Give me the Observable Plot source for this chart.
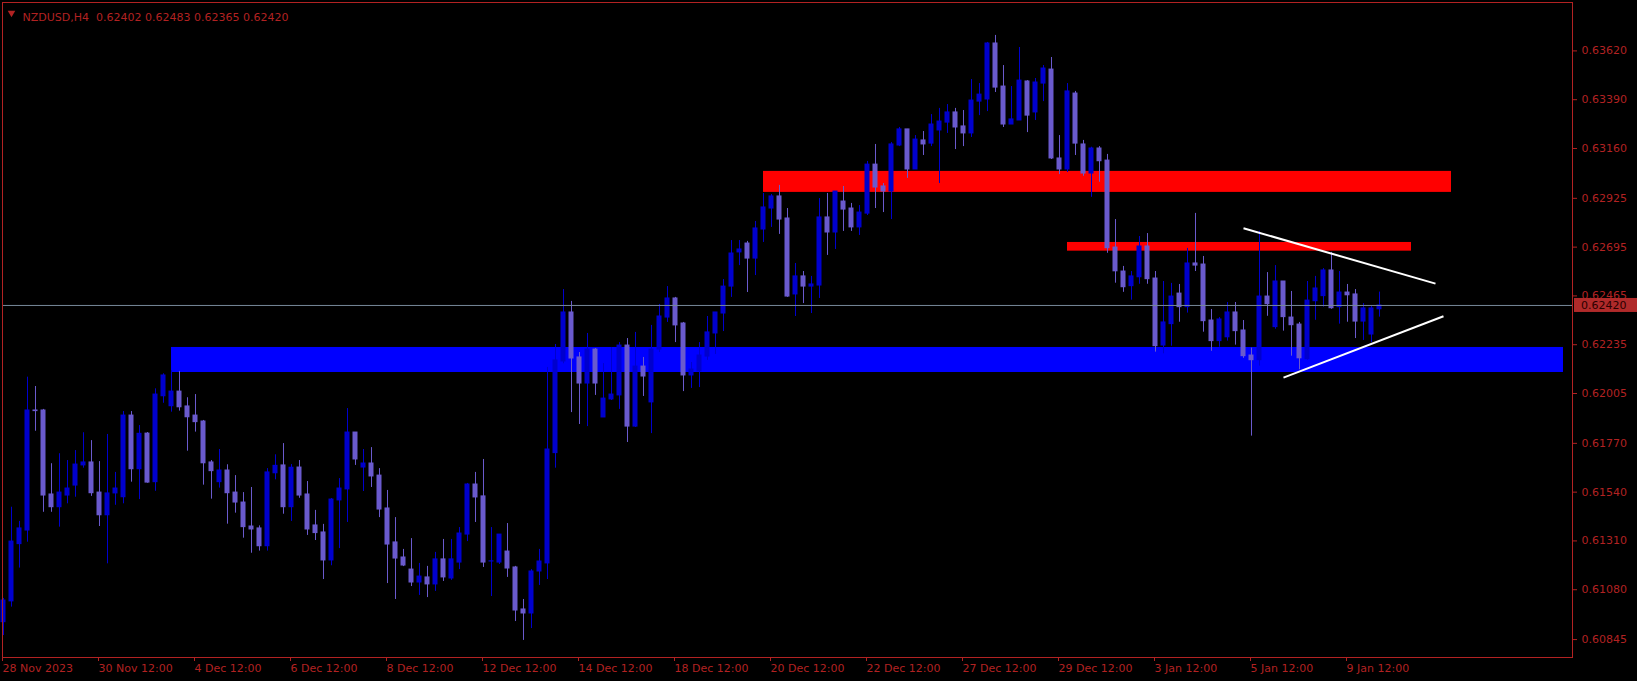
<!DOCTYPE html>
<html>
<head>
<meta charset="utf-8">
<script src="https://cdn.jsdelivr.net/npm/d3@7"></script>
<script src="https://cdn.jsdelivr.net/npm/@observablehq/plot@0.6"></script>
<style>
  html, body { margin: 0; padding: 0; background: #000; }
  #chart { width: 1637px; height: 681px; }
  svg { display: block; }
</style>
</head>
<body>
<div id="chart"></div>
<script>
// ---------- DATA ----------
const symbolName = "NZDUSD,H4";

const opens = [
0.60927,0.61025,0.61295,0.61359,0.61925,0.61925,0.61529,0.61469,0.61524,0.61571,
0.61666,0.61680,0.61538,0.61431,0.61534,0.61516,0.61901,0.61648,0.61816,0.61587,
0.61992,0.61945,0.62014,0.61944,0.61901,0.61873,0.61680,0.61587,0.61642,0.61538,
0.61491,0.61378,0.61369,0.61285,0.61629,0.61666,0.61469,0.61656,0.61529,0.61383,
0.61350,0.61218,0.61501,0.61553,0.61821,0.61656,0.61675,0.61618,0.61463,0.61303,
0.61232,0.61175,0.61114,0.61138,0.61105,0.61223,0.61133,0.61208,0.61340,0.61576,
0.61520,0.61213,0.61208,0.61260,0.61185,0.60987,0.60968,0.61166,0.61204,0.61724,
0.62156,0.62387,0.62175,0.62052,0.62212,0.61892,0.61977,0.61996,0.62231,0.61849,
0.62132,0.61963,0.62212,0.62363,0.62453,0.62335,0.62090,0.62109,0.62179,0.62288,
0.62382,0.62509,0.62670,0.62712,0.62641,0.62778,0.62877,0.62934,0.62830,0.62472,
0.62557,0.62509,0.62514,0.62835,0.62764,0.62910,0.62877,0.62788,0.62853,0.63084,
0.62981,0.62957,0.63174,0.63250,0.63061,0.63198,0.63183,0.63245,0.63282,0.63330,
0.63264,0.63231,0.63381,0.63391,0.63655,0.63452,0.63273,0.63292,0.63476,0.63330,
0.63466,0.63532,0.63113,0.63061,0.63419,0.63179,0.63042,0.63160,0.63103,0.62693,
0.62580,0.62511,0.62553,0.62698,0.62547,0.62231,0.62332,0.62476,0.62412,0.62618,
0.62613,0.62349,0.62252,0.62270,0.62387,0.62302,0.62184,0.62162,0.62462,0.62318,
0.62533,0.62363,0.62330,0.62167,0.62440,0.62464,0.62585,0.62412,0.62481,0.62472,
0.62344,0.62283,0.62402];

const highs = [
0.61039,0.61469,0.61402,0.62082,0.62038,0.61930,0.61674,0.61721,0.61689,0.61736,
0.61820,0.61783,0.61684,0.61812,0.61633,0.61920,0.61920,0.61854,0.61821,0.62027,
0.62098,0.62113,0.62109,0.61985,0.62000,0.61878,0.61689,0.61741,0.61669,0.61618,
0.61538,0.61562,0.61381,0.61651,0.61716,0.61769,0.61670,0.61689,0.61590,0.61454,
0.61388,0.61510,0.61604,0.61934,0.61821,0.61741,0.61750,0.61651,0.61548,0.61420,
0.61270,0.61321,0.61204,0.61190,0.61256,0.61317,0.61317,0.61373,0.61581,0.61633,
0.61694,0.61373,0.61340,0.61392,0.61190,0.61034,0.61175,0.61270,0.62128,0.62236,
0.62495,0.62439,0.62198,0.62288,0.62217,0.62146,0.62222,0.62245,0.62264,0.62293,
0.62175,0.62326,0.62425,0.62509,0.62458,0.62340,0.62151,0.62245,0.62368,0.62387,
0.62542,0.62726,0.62726,0.62722,0.62816,0.62948,0.62943,0.62986,0.62877,0.62618,
0.62580,0.62557,0.62924,0.62948,0.62957,0.62981,0.62901,0.62891,0.63099,0.63179,
0.62995,0.63188,0.63259,0.63250,0.63221,0.63240,0.63320,0.63349,0.63367,0.63349,
0.63339,0.63485,0.63466,0.63660,0.63693,0.63551,0.63452,0.63636,0.63480,0.63490,
0.63551,0.63589,0.63221,0.63466,0.63429,0.63198,0.63166,0.63169,0.63132,0.62825,
0.62604,0.62580,0.62745,0.62759,0.62580,0.62533,0.62524,0.62519,0.62689,0.62854,
0.62651,0.62401,0.62363,0.62434,0.62434,0.62349,0.62219,0.62770,0.62575,0.62608,
0.62533,0.62486,0.62340,0.62533,0.62557,0.62594,0.62670,0.62580,0.62519,0.62495,
0.62429,0.62415,0.62483];

const lows = [
0.60864,0.60998,0.61182,0.61304,0.61827,0.61445,0.61445,0.61375,0.61485,0.61516,
0.61653,0.61520,0.61378,0.61202,0.61478,0.61485,0.61587,0.61505,0.61582,0.61544,
0.61959,0.61917,0.61922,0.61733,0.61823,0.61573,0.61507,0.61559,0.61389,0.61441,
0.61323,0.61252,0.61262,0.61262,0.61598,0.61436,0.61402,0.61511,0.61336,0.61312,
0.61128,0.61193,0.61274,0.61397,0.61666,0.61543,0.61562,0.61420,0.61109,0.61034,
0.61189,0.61095,0.61053,0.61043,0.61072,0.61119,0.61124,0.61175,0.61307,0.61397,
0.61185,0.61048,0.61199,0.61138,0.60930,0.60841,0.60897,0.61100,0.61128,0.61653,
0.62145,0.61915,0.61859,0.61849,0.61996,0.61892,0.61972,0.61930,0.61774,0.61845,
0.61991,0.61816,0.62198,0.62340,0.62245,0.62014,0.62029,0.62033,0.62161,0.62189,
0.62297,0.62458,0.62608,0.62481,0.62561,0.62717,0.62788,0.62755,0.62458,0.62368,
0.62429,0.62382,0.62453,0.62656,0.62684,0.62769,0.62769,0.62750,0.62844,0.62877,
0.62858,0.62825,0.63169,0.63019,0.63061,0.63127,0.63169,0.62995,0.63231,0.63155,
0.63169,0.63212,0.63315,0.63334,0.63424,0.63259,0.63273,0.63292,0.63235,0.63292,
0.63381,0.63108,0.63037,0.63047,0.63127,0.63029,0.62930,0.63001,0.62666,0.62525,
0.62482,0.62445,0.62520,0.62520,0.62200,0.62192,0.62228,0.62341,0.62384,0.62580,
0.62294,0.62204,0.62223,0.62252,0.62233,0.62171,0.61804,0.62134,0.62369,0.62308,
0.62299,0.62181,0.62117,0.62162,0.62350,0.62412,0.62402,0.62332,0.62341,0.62264,
0.62255,0.62245,0.62365];

const closes = [
0.61029,0.61307,0.61369,0.61925,0.61922,0.61524,0.61469,0.61538,0.61557,0.61670,
0.61680,0.61535,0.61431,0.61534,0.61557,0.61901,0.61648,0.61815,0.61585,0.62000,
0.62090,0.62014,0.61940,0.61893,0.61870,0.61676,0.61639,0.61642,0.61535,0.61491,
0.61375,0.61364,0.61285,0.61633,0.61664,0.61469,0.61655,0.61524,0.61364,0.61347,
0.61218,0.61505,0.61557,0.61821,0.61694,0.61675,0.61614,0.61458,0.61293,0.61227,
0.61194,0.61114,0.61142,0.61105,0.61223,0.61138,0.61223,0.61345,0.61576,0.61515,
0.61208,0.61214,0.61340,0.61180,0.60982,0.60968,0.61166,0.61213,0.61741,0.62161,
0.62387,0.62170,0.62052,0.62212,0.62052,0.61981,0.62000,0.62231,0.61849,0.62132,
0.62085,0.62212,0.62368,0.62453,0.62326,0.62090,0.62118,0.62184,0.62293,0.62387,
0.62509,0.62665,0.62684,0.62641,0.62783,0.62882,0.62934,0.62825,0.62462,0.62557,
0.62509,0.62519,0.62835,0.62764,0.62957,0.62872,0.62788,0.62858,0.63084,0.62976,
0.62957,0.63179,0.63250,0.63061,0.63202,0.63179,0.63273,0.63287,0.63330,0.63259,
0.63231,0.63386,0.63414,0.63655,0.63447,0.63273,0.63297,0.63480,0.63315,0.63471,
0.63537,0.63113,0.63061,0.63429,0.63183,0.63042,0.63160,0.63100,0.62690,0.62581,
0.62506,0.62557,0.62698,0.62544,0.62228,0.62340,0.62462,0.62412,0.62618,0.62608,
0.62346,0.62252,0.62354,0.62387,0.62299,0.62181,0.62162,0.62462,0.62426,0.62533,
0.62365,0.62327,0.62171,0.62443,0.62500,0.62585,0.62407,0.62481,0.62468,0.62344,
0.62406,0.62406,0.62420];

// time-axis labels: bar index (0 = 28 Nov 2023 12:00, H4 bars) and text
const xTickBars = [0, 12, 24, 36, 48, 60, 72, 84, 96, 108, 120, 132, 144, 156, 168];
const xTickLabels = ["28 Nov 2023", "30 Nov 12:00", "4 Dec 12:00", "6 Dec 12:00", "8 Dec 12:00",
  "12 Dec 12:00", "14 Dec 12:00", "18 Dec 12:00", "20 Dec 12:00", "22 Dec 12:00",
  "27 Dec 12:00", "29 Dec 12:00", "3 Jan 12:00", "5 Jan 12:00", "9 Jan 12:00"];

// price-axis labels
const yTickValues = [0.63620, 0.63390, 0.63160, 0.62925, 0.62695, 0.62465, 0.62235,
  0.62005, 0.61770, 0.61540, 0.61310, 0.61080, 0.60845];

// horizontal zones (bar index from/to, price low/high)
const zoneKinds = ["support", "resistance", "resistance"];
const zoneFromBar = [21, 95, 133];
const zoneToBar = [195, 181, 176];
const zoneLow = [0.62104, 0.62953, 0.62676];
const zoneHigh = [0.62222, 0.63052, 0.62717];

// triangle trend lines (bar index / price at each end)
const trendFromBar = [155, 160];
const trendFromPrice = [0.62784, 0.62080];
const trendToBar = [179, 180];
const trendToPrice = [0.62523, 0.62369];

// ---------- BUILD ----------
const bars = opens.map((o, i) => ({i, open: o, high: highs[i], low: lows[i], close: closes[i]}));
const zones = zoneKinds.map((kind, k) => ({kind, x1: zoneFromBar[k], x2: zoneToBar[k], y1: zoneLow[k], y2: zoneHigh[k]}));
const trends = trendFromBar.map((b, k) => ({x1: b, y1: trendFromPrice[k], x2: trendToBar[k], y2: trendToPrice[k]}));
const last = bars[bars.length - 1];

const BULL = "#0000CD", BEAR = "#6A5ACD", AXIS = "#b22222";
const zoneFill = {support: "#0000FF", resistance: "#FF0000"};
const candleColor = d => d.close >= d.open ? BULL : BEAR;
const f5 = v => v.toFixed(5);
const headerText = `${symbolName}\u00a0\u00a0${f5(last.open)} ${f5(last.high)} ${f5(last.low)} ${f5(last.close)}`;

const W = 1637, H = 681, mL = 2, mT = 2, mR = 65, mB = 24;

const chart = Plot.plot({
  width: W, height: H,
  marginLeft: mL, marginTop: mT, marginRight: mR, marginBottom: mB,
  style: {background: "#000", fontFamily: "'DejaVu Sans', sans-serif", fontSize: "11px", overflow: "visible"},
  x: {type: "linear", domain: [-0.125, 196.125], axis: null},
  y: {domain: [0.607605, 0.638482], axis: null},
  color: {type: "identity"},
  marks: [
    Plot.rect(zones, {x1: "x1", x2: "x2", y1: "y1", y2: "y2", fill: d => zoneFill[d.kind]}),
    Plot.ruleX(bars, {x: "i", y1: "low", y2: "high", stroke: candleColor, strokeWidth: 1}),
    Plot.rect(bars, {
      x1: d => d.i - 0.3125, x2: d => d.i + 0.3125,
      y1: d => Math.min(d.open, d.close), y2: d => Math.max(d.open, d.close),
      fill: candleColor, insetTop: -0.5, insetBottom: -0.5
    }),
    Plot.ruleY([last.close], {stroke: "#778899", strokeWidth: 1}),
    Plot.link(trends, {x1: "x1", y1: "y1", x2: "x2", y2: "y2", stroke: "#ffffff", strokeWidth: 2}),
    Plot.frame({stroke: AXIS}),
    Plot.axisX(xTickBars, {
      anchor: "bottom", tickSize: 4, tickPadding: 3, label: null,
      tickFormat: d => xTickLabels[xTickBars.indexOf(d)],
      textAnchor: "start", dx: -1, color: AXIS, fontSize: 11
    }),
    Plot.axisY(yTickValues, {
      anchor: "right", tickSize: 4, tickPadding: 5, label: null,
      tickFormat: f5, color: AXIS, fontSize: 11
    }),
    Plot.dot([0], {frameAnchor: "top-left", dx: 9, dy: 10.5, symbol: "triangle", r: 2.8, rotate: 180, fill: AXIS, stroke: null}),
    Plot.text([headerText], {frameAnchor: "top-left", dx: 20, dy: 10.5, textAnchor: "start", fill: AXIS, fontSize: 11})
  ]
});

// current-price tag on the price axis, positioned by the plot's own y scale
const yPx = chart.scale("y").apply(last.close);
const svg = d3.select(chart);
const tag = svg.append("g").attr("text-anchor", "start");
tag.append("rect")
  .attr("x", W - mR + 2).attr("y", yPx - 7)
  .attr("width", mR - 2).attr("height", 14)
  .attr("fill", "#b02a2a");
tag.append("text")
  .attr("x", W - mR + 9).attr("y", yPx)
  .attr("dy", "0.35em")
  .attr("text-anchor", "start")
  .attr("fill", "#2a0000")
  .attr("font-family", "'DejaVu Sans', sans-serif")
  .attr("font-size", 11)
  .text(f5(last.close));

document.getElementById("chart").appendChild(chart);
</script>
</body>
</html>
